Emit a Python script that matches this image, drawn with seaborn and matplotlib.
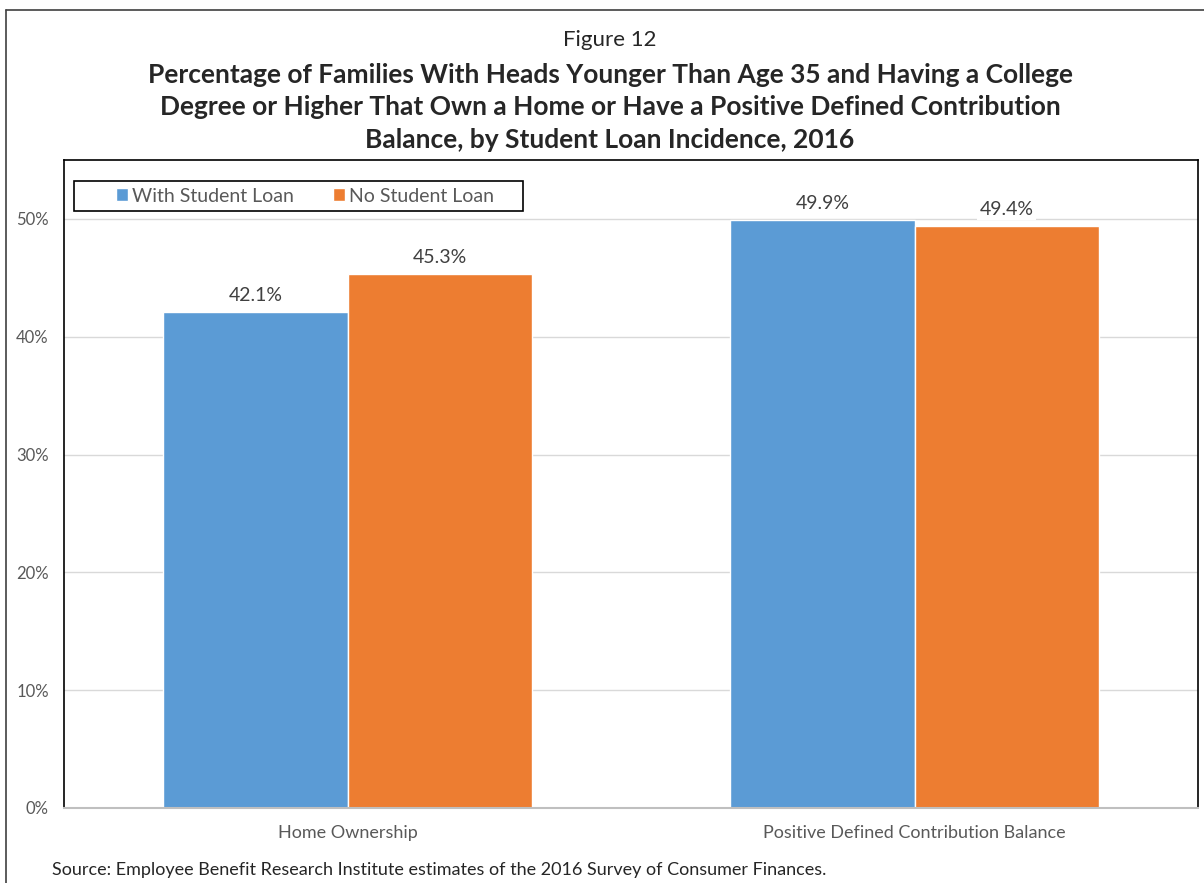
import matplotlib
matplotlib.use("Agg")
import matplotlib.pyplot as plt
import seaborn as sns
import pandas as pd
from matplotlib.lines import Line2D
from matplotlib.patches import Rectangle

# data
categories = ["Home Ownership", "Positive Defined Contribution Balance"]
series = ["With Student Loan", "No Student Loan"]
with_loan = [42.1, 49.9]
no_loan = [45.3, 49.4]
y_ticks = [0, 10, 20, 30, 40, 50]
colors = ["#5B9BD5", "#ED7D31"]

df = pd.DataFrame({
    "category": categories * 2,
    "series": [series[0]] * 2 + [series[1]] * 2,
    "value": with_loan + no_loan,
})

sns.set_style("white")
plt.rcParams["font.family"] = ["Lato", "DejaVu Sans"]

W, H = 1204, 883
AX_L, AX_T, AX_W, AX_H = 64, 160, 1134, 648
fig = plt.figure(figsize=(W / 100, H / 100), dpi=100)
ax = fig.add_axes([AX_L / W, 1 - (AX_T + AX_H) / H, AX_W / W, AX_H / H])

sns.barplot(data=df, x="category", y="value", hue="series", palette=colors,
            width=0.65, saturation=1, ax=ax, zorder=2)

ax.set_ylim(0, 55)
ax.set_xlim(-0.5, 1.5)
ax.set_yticks(y_ticks)
ax.set_yticklabels([f"{t}%" for t in y_ticks])
ax.grid(axis="y", color="#D9D9D9", linewidth=1, zorder=0)
ax.set_axisbelow(True)
ax.set_xlabel("")
ax.set_ylabel("")
ax.tick_params(axis="both", length=0, labelcolor="#595959")
ax.tick_params(axis="y", pad=11, labelsize=12)
ax.tick_params(axis="x", pad=12, labelsize=13)

for side in ["left", "top", "right"]:
    ax.spines[side].set_visible(True)
    ax.spines[side].set_color("black")
    ax.spines[side].set_linewidth(1.2)
ax.spines["bottom"].set_color("#BFBFBF")
ax.spines["bottom"].set_linewidth(1.5)

for cont in ax.containers:
    ax.bar_label(cont, fmt="%.1f%%", padding=6, fontsize=14, color="#404040",
                 bbox=dict(facecolor="white", edgecolor="none", pad=2))

# legend box drawn by hand so the padding matches the reference
ax.add_patch(Rectangle(((74 - AX_L) / AX_W, 1 - (211 - AX_T) / AX_H), 449 / AX_W, 30 / AX_H,
                       transform=ax.transAxes, facecolor="white", edgecolor="black",
                       linewidth=1.2, clip_on=False, zorder=4))
leg = ax.legend(loc="center left", bbox_to_anchor=((116 - AX_L) / AX_W, 1 - (196 - AX_T) / AX_H),
                ncol=2, frameon=False, fontsize=14, handlelength=0.6, handleheight=0.6,
                handletextpad=0.2, columnspacing=2.05, borderpad=0, borderaxespad=0,
                labelcolor="#595959")
leg.set_zorder(5)

center_x = 610 / W
fig.text(center_x, 1 - 40 / H, "Figure 12", ha="center", va="center", fontsize=16)
title_lines = [
    "Percentage of Families With Heads Younger Than Age 35 and Having a College",
    "Degree or Higher That Own a Home or Have a Positive Defined Contribution",
    "Balance, by Student Loan Incidence, 2016",
]
title_y = [75, 107, 140]
for line, yp in zip(title_lines, title_y):
    fig.text(center_x, 1 - yp / H, line, ha="center", va="center",
             fontsize=19, fontweight="bold")

fig.text(52 / W, 1 - 870 / H,
         "Source: Employee Benefit Research Institute estimates of the 2016 Survey of Consumer Finances.",
         ha="left", va="center", fontsize=13)

# outer frame, left and top edges
frame_x = 6 / W
frame_y = 1 - 10 / H
fig.add_artist(Line2D([frame_x, frame_x], [0, frame_y], transform=fig.transFigure,
                      color="#404040", linewidth=1.2))
fig.add_artist(Line2D([frame_x, 1], [frame_y, frame_y], transform=fig.transFigure,
                      color="#404040", linewidth=1.2))

fig.savefig("out.png", dpi=100)
